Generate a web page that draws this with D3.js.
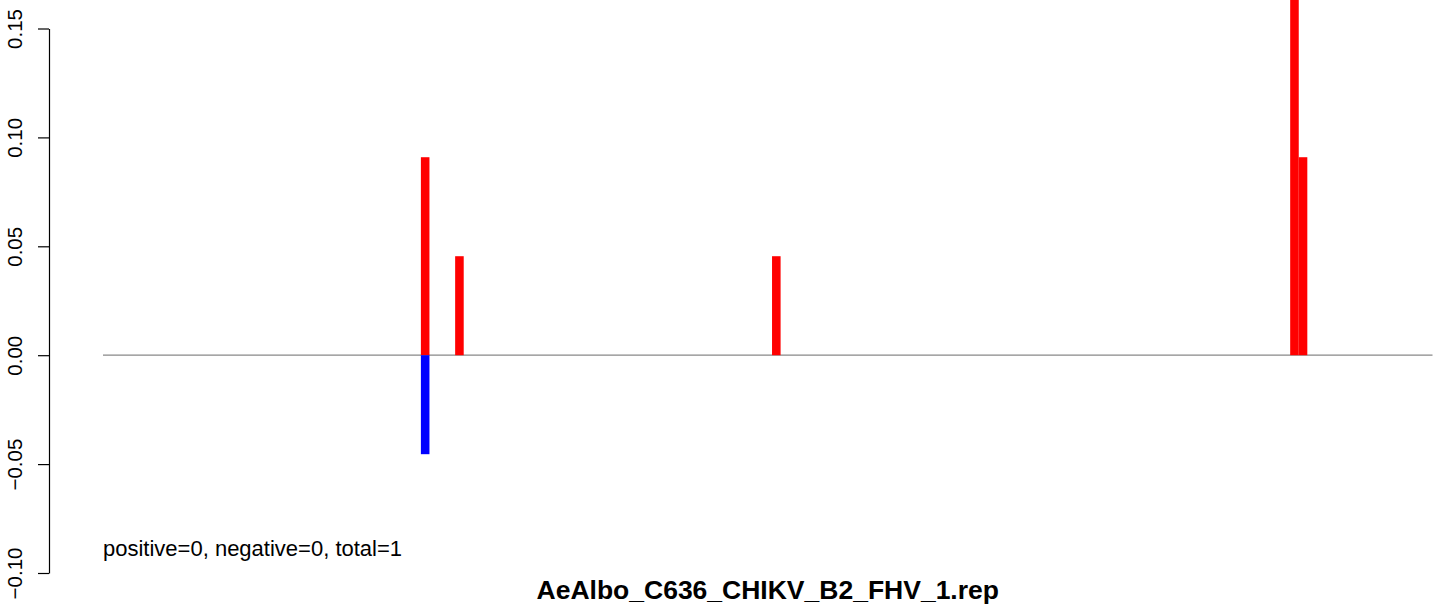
<!DOCTYPE html>
<html><head><meta charset="utf-8">
<script src="https://cdn.jsdelivr.net/npm/d3@7"></script>
<style>html,body{margin:0;padding:0;background:#fff;}svg{display:block;font-family:"Liberation Sans",Arial,sans-serif;}</style>
</head><body>
<svg id="c" width="1444" height="608"></svg>
<script>
const positions = [75, 83, 157, 278, 280];
const posValues = [0.0909, 0.04545, 0.04545, 0.1818, 0.0909];
const negPositions = [75];
const negValues = [-0.04545];
const yTicks = [-0.10, -0.05, 0.00, 0.05, 0.10, 0.15];
const title = "AeAlbo_C636_CHIKV_B2_FHV_1.rep";
const note = "positive=0, negative=0, total=1";

const svg = d3.select("#c");
const x = d3.scaleLinear().domain([0, 310]).range([104, 1431.5]);
const y = d3.scaleLinear().domain([-0.10, 0.15]).range([573, 28.5]);

// baseline
svg.append("line").attr("x1", 103).attr("x2", 1432.5)
  .attr("y1", y(0)).attr("y2", y(0)).attr("stroke", "#888").attr("stroke-width", 1.2);

const bw = p => x(p + 1) - x(p - 1);
svg.selectAll("rect.pos").data(positions).enter().append("rect")
  .attr("x", (d) => x(d - 1)).attr("width", d => bw(d))
  .attr("y", (d, i) => y(posValues[i])).attr("height", (d, i) => y(0) - y(posValues[i]))
  .attr("fill", "#ff0000");
svg.selectAll("rect.neg").data(negPositions).enter().append("rect")
  .attr("x", (d) => x(d - 1)).attr("width", d => bw(d))
  .attr("y", y(0)).attr("height", (d, i) => y(negValues[i]) - y(0))
  .attr("fill", "#0000ff");

// y axis
const axisX = 49;
const fmt = v => (v < 0 ? "\u2212" : "") + Math.abs(v).toFixed(2);
const ax = svg.append("g").attr("transform", `translate(${axisX},0)`)
  .call(d3.axisLeft(y).tickValues(yTicks).tickFormat(fmt).tickSize(11).tickSizeOuter(0).tickPadding(0));
ax.select(".domain").attr("stroke", "#000").attr("stroke-width", 1.2);
ax.selectAll(".tick line").attr("stroke", "#000").attr("stroke-width", 1.2);
ax.selectAll(".tick text")
  .attr("x", 0).attr("y", 0).attr("dy", 0)
  .attr("text-anchor", "middle")
  .attr("font-size", 20.5).attr("fill", "#000")
  .attr("transform", `translate(${-axisX + 22},0) rotate(-90)`);

svg.append("text").attr("x", 103).attr("y", 556).attr("font-size", 22).attr("fill", "#000").text(note);
svg.append("text").attr("x", (103 + 1432.5) / 2).attr("y", 599).attr("text-anchor", "middle")
  .attr("font-size", 26.5).attr("font-weight", "bold").attr("fill", "#000").text(title);
</script>
</body></html>
